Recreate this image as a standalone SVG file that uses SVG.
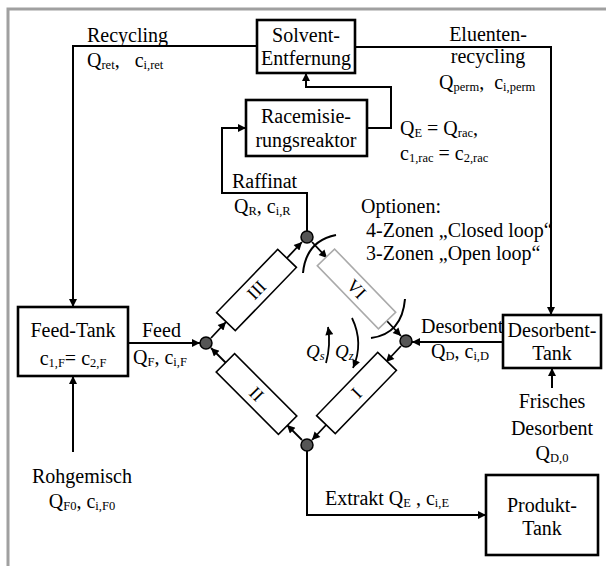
<svg xmlns="http://www.w3.org/2000/svg" width="606" height="566" viewBox="0 0 606 566">
<defs>
<marker id="ah" viewBox="0 0 10 10" refX="10" refY="5" markerUnits="userSpaceOnUse" markerWidth="10" markerHeight="8" orient="auto">
<path d="M0,0 L10,5 L0,10 z" fill="#000"/>
</marker>
<marker id="ahs" viewBox="0 0 10 10" refX="10" refY="5" markerUnits="userSpaceOnUse" markerWidth="9" markerHeight="8" orient="auto">
<path d="M0,0 L10,5 L0,10 z" fill="#000"/>
</marker>
</defs>
<style>
text{font-family:"Liberation Serif","Times New Roman",serif;font-size:20px;fill:#000}
.s{font-size:12.5px}
.m{text-anchor:middle}
.box{fill:#fff;stroke:#000;stroke-width:2.6}
.col{fill:#fff;stroke:#000;stroke-width:1.6}
.colg{fill:#fff;stroke:#aaa;stroke-width:1.6}
.ln{fill:none;stroke:#000;stroke-width:2}
.ar{fill:none;stroke:#000;stroke-width:2;marker-end:url(#ah)}
.ars{fill:none;stroke:#000;stroke-width:1.8;marker-end:url(#ahs)}
.node{fill:#555;stroke:#000;stroke-width:1.5}
.num{font-size:18px;text-anchor:middle}
.it{font-style:italic;font-size:19px}
</style>
<rect width="606" height="566" fill="#fff"/>
<g id="frame"><path d="M8,566 L8,9 L606,9" fill="none" stroke="#a0a0a0" stroke-width="3"/></g>

<g id="connectors">
<!-- Recycling -->
<path class="ar" d="M257,46 L73,46 L73,307"/>
<!-- Eluenten recycling -->
<path class="ar" d="M355,47 L551,47 L551,315"/>
<!-- Racemisierung to Solvent -->
<path class="ar" d="M367,128 L391,128 L391,87 L306,87 L306,73"/>
<!-- Raffinat to Racemisierung -->
<path class="ar" d="M307,231 L307,193 L222,193 L222,128 L246,128"/>
<!-- Feed -->
<path class="ar" d="M128,343 L200,343"/>
<!-- Rohgemisch -->
<path class="ar" d="M73,452 L73,376"/>
<!-- Desorbent -->
<path class="ar" d="M503,342 L412,342"/>
<!-- Frisches Desorbent -->
<path class="ar" d="M552,388 L552,368"/>
<!-- Extrakt -->
<path class="ar" d="M307,451 L307,515 L486,515"/>
<!-- diamond short arrows -->
<path class="ars" d="M211,338 L226,322"/>
<path class="ars" d="M287,258 L302,242"/>
<path class="ars" d="M312,242 L327,258"/>
<path class="ars" d="M386,320 L401,336"/>
<path class="ars" d="M401,346 L386,362"/>
<path class="ars" d="M327,424 L312,440"/>
<path class="ars" d="M302,440 L287,425"/>
<path class="ars" d="M226,363 L211,348"/>
<!-- cut arcs -->
<path class="ln" d="M303,273 Q306,241 336,235" stroke-width="1.6"/>
<path class="ln" d="M371,338 Q402,334 405,299" stroke-width="1.6"/>
<!-- Qs / Qz arrows -->
<path class="ars" d="M326,363 Q331,345 328,327"/>
<path class="ars" d="M352,318 Q364,343 353,368"/>
</g>

<g id="solvent">
<rect class="box" x="257" y="20" width="98" height="53"/>
<text class="m" x="306" y="42">Solvent-</text>
<text class="m" x="306" y="65">Entfernung</text>
</g>
<g id="racemisierung">
<rect class="box" x="246" y="100" width="121" height="56"/>
<text class="m" x="306" y="123">Racemisie-</text>
<text class="m" x="306" y="147">rungsreaktor</text>
</g>
<g id="feedtank">
<rect class="box" x="18" y="307" width="110" height="69"/>
<text class="m" x="73" y="337">Feed-Tank</text>
<text class="m" x="73" y="365">c<tspan class="s" dy="2">1,F</tspan><tspan dy="-2">=</tspan> c<tspan class="s" dy="2">2,F</tspan></text>
</g>
<g id="desorbenttank">
<rect class="box" x="503" y="315" width="98" height="53"/>
<text class="m" x="552" y="337">Desorbent-</text>
<text class="m" x="552" y="360">Tank</text>
</g>
<g id="produkttank">
<rect class="box" x="486" y="475" width="112" height="80"/>
<text class="m" x="542" y="512">Produkt-</text>
<text class="m" x="542" y="535">Tank</text>
</g>

<g id="col3">
<rect class="col" x="-44" y="-13" width="88" height="26" transform="translate(256.5,290) rotate(-46)"/>
<text class="num" transform="translate(256.5,290) rotate(-46)" y="6">III</text>
</g>
<g id="col6">
<rect class="colg" x="-44" y="-12" width="88" height="24" transform="translate(356.5,289) rotate(46)"/>
<text class="num" transform="translate(356.5,289) rotate(46)" y="6">VI</text>
</g>
<g id="col1">
<rect class="col" x="-44" y="-13" width="88" height="26" transform="translate(356.5,393) rotate(-46)"/>
<text class="num" transform="translate(356.5,393) rotate(-46)" y="6">I</text>
</g>
<g id="col2">
<rect class="col" x="-44" y="-13" width="88" height="26" transform="translate(256.5,394) rotate(45)"/>
<text class="num" transform="translate(256.5,394) rotate(45)" y="6">II</text>
</g>

<g id="nodes">
<circle class="node" cx="206" cy="343" r="6"/>
<circle class="node" cx="307" cy="237" r="6"/>
<circle class="node" cx="406" cy="341" r="6"/>
<circle class="node" cx="307" cy="445" r="6"/>
</g>

<g id="labels">
<text x="87" y="42">Recycling</text>
<text x="87" y="67">Q<tspan class="s" dy="2">ret</tspan><tspan dy="-2">,&#160;&#160; c</tspan><tspan class="s" dy="2">i,ret</tspan></text>
<text class="m" x="488" y="41">Eluenten-</text>
<text class="m" x="488" y="63">recycling</text>
<text x="439" y="89">Q<tspan class="s" dy="2">perm</tspan><tspan dy="-2">,&#160;&#160;c</tspan><tspan class="s" dy="2">i,perm</tspan></text>
<text x="400" y="135">Q<tspan class="s" dy="2">E</tspan><tspan dy="-2"> = Q</tspan><tspan class="s" dy="2">rac</tspan><tspan dy="-2">,</tspan></text>
<text x="400" y="160">c<tspan class="s" dy="2">1,rac</tspan><tspan dy="-2"> = c</tspan><tspan class="s" dy="2">2,rac</tspan></text>
<text x="232" y="188">Raffinat</text>
<text x="234" y="213">Q<tspan class="s" dy="2">R</tspan><tspan dy="-2">, c</tspan><tspan class="s" dy="2">i,R</tspan></text>
<text x="361" y="213">Optionen:</text>
<text x="366" y="237">4-Zonen „Closed loop“</text>
<text x="366" y="260">3-Zonen „Open loop“</text>
<text x="142" y="337">Feed</text>
<text x="133" y="364">Q<tspan class="s" dy="2">F</tspan><tspan dy="-2">, c</tspan><tspan class="s" dy="2">i,F</tspan></text>
<text x="421" y="333">Desorbent</text>
<text x="431" y="358">Q<tspan class="s" dy="2">D</tspan><tspan dy="-2">, c</tspan><tspan class="s" dy="2">i,D</tspan></text>
<text class="it" x="306" y="358">Q<tspan class="s" dy="2">s</tspan></text>
<text class="it" x="335" y="358">Q<tspan class="s" dy="2">z</tspan></text>
<text class="m" x="552" y="408">Frisches</text>
<text class="m" x="552" y="435">Desorbent</text>
<text class="m" x="552" y="460">Q<tspan class="s" dy="2">D,0</tspan></text>
<text class="m" x="82" y="483">Rohgemisch</text>
<text class="m" x="82" y="508">Q<tspan class="s" dy="2">F0</tspan><tspan dy="-2">, c</tspan><tspan class="s" dy="2">i,F0</tspan></text>
<text x="325" y="505">Extrakt Q<tspan class="s" dy="2">E</tspan><tspan dy="-2"> , c</tspan><tspan class="s" dy="2">i,E</tspan></text>
</g>
</svg>
